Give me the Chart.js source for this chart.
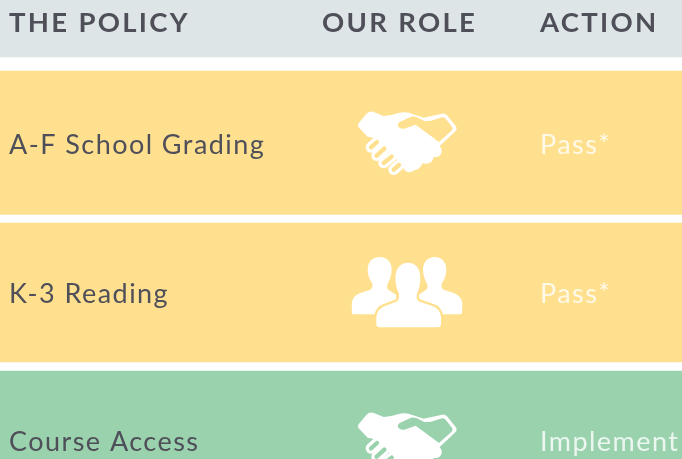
<!DOCTYPE html>
<html><head><meta charset="utf-8">
<style>html,body{margin:0;padding:0;background:#fff}#w{width:682px;height:459px;overflow:hidden}</style>
<script src="https://cdn.jsdelivr.net/npm/chart.js@4"></script></head>
<body><div id="w"><canvas id="c" width="682" height="459"></canvas></div>
<script>
const headers = ["THE POLICY", "OUR ROLE", "ACTION"];
const headerColumns = [9, 322, 540];
const bodyColumns = [9, 407, 540];
const policies = ["A-F School Grading", "K-3 Reading", "Course Access"];
const roles = ["handshake", "people", "handshake"];
const actions = ["Pass*", "Pass*", "Implement"];
const headerBand = [0, 57];
const rowBands = [[71, 214.5], [223, 362], [371, 512]];
const rowBaselines = [154, 303, 450.5];
const iconCentres = [142, 293, 443];
const rowColors = ["#ffe08f", "#ffe08f", "#9bd2ae"];
const headerColor = "#dee5e7";
const inkColor = "#4f4f59";

const handBody = new Path2D("M56,82 L78,56 Q88,46 100,50 L130,62 Q150,62 172,54 Q190,49 205,52 L250,67 L305,55 Q314,54 320,60 L346,92 Q352,100 345,108 L298,152 Q308,165 302,176 Q295,188 280,184 Q278,202 258,205 L246,204 Q240,222 222,225 Q208,236 195,226 L160,180 L100,128 L82,124 L55,96 Q50,90 56,82 Z");
const handGap = new Path2D("M178,80 L212,64 Q220,62 228,65 L252,77 Q262,78 272,76 L305,66 Q312,66 316,70 L336,96 Q338,102 334,106 L296,140 L226,88 L192,100 Q176,102 172,90 Q172,84 178,80 Z");
const handFingers = [[[92,156],[110,140]], [[109,181],[132,160]], [[130,203],[154,184]], [[160,223],[176,209]]];
const personLeft = new Path2D("M35,205 L34,176 Q36,152 60,144 L90,134 Q98,128 96,116 Q82,96 82,72 Q84,38 118,36 Q152,38 154,72 Q154,96 142,116 Q138,128 144,134 L168,150 L168,208 L41,208 Q35,208 35,205 Z");
const personRight = new Path2D("M365,205 L366,176 Q364,152 340,144 L310,134 Q302,128 304,116 Q318,96 318,72 Q316,38 284,36 Q250,38 248,72 Q248,96 260,116 Q264,128 258,134 L234,150 L234,208 L359,208 Q365,208 365,205 Z");
const personCentre = new Path2D("M108,238 L108,216 Q110,190 136,182 L168,170 Q178,164 176,146 Q165,126 165,96 Q168,55 203,53 Q238,55 240,96 Q240,126 230,146 Q226,164 238,170 L274,182 Q300,190 302,216 L302,238 Q302,247 292,247 L118,247 Q108,247 108,238 Z");

function drawIcon(ctx, name, cx, cy, bg) {
  ctx.save();
  ctx.translate(cx, cy);
  ctx.scale(1 / 3, 1 / 3);
  ctx.fillStyle = "#fff";
  ctx.strokeStyle = "#fff";
  ctx.lineCap = "round";
  ctx.lineJoin = "round";
  if (name === "handshake") {
    ctx.translate(-200, -140);
    ctx.fill(handBody);
    ctx.fillStyle = bg;
    ctx.fill(handGap);
    handFingers.forEach(f => {
      ctx.strokeStyle = "#fff";
      ctx.lineWidth = 32;
      ctx.beginPath(); ctx.moveTo(f[0][0], f[0][1]); ctx.lineTo(f[1][0], f[1][1]); ctx.stroke();
    });
    handFingers.forEach(f => {
      ctx.strokeStyle = bg;
      ctx.lineWidth = 13;
      ctx.beginPath(); ctx.moveTo(f[0][0], f[0][1]); ctx.lineTo(f[1][0], f[1][1]); ctx.stroke();
    });
  } else {
    ctx.translate(-200, -144);
    ctx.fill(personLeft);
    ctx.fill(personRight);
    ctx.strokeStyle = bg;
    ctx.lineWidth = 14;
    ctx.stroke(personCentre);
    ctx.fill(personCentre);
  }
  ctx.restore();
}

const tablePlugin = {
  id: "tableText",
  afterDatasetsDraw(chart) {
    const ctx = chart.ctx, col = chart.scales.col, y = chart.scales.y;
    ctx.save();
    ctx.textBaseline = "alphabetic";
    ctx.textAlign = "left";
    ctx.font = "700 27.5px Lato";
    ctx.letterSpacing = "2.3px";
    ctx.fillStyle = inkColor;
    headers.forEach((h, i) => ctx.fillText(h, col.getPixelForValue(headerColumns[i]), y.getPixelForValue(32)));
    ctx.font = "400 27px Lato";
    ctx.letterSpacing = "1.45px";
    policies.forEach((p, i) => {
      ctx.fillStyle = inkColor;
      ctx.fillText(p, col.getPixelForValue(bodyColumns[0]), y.getPixelForValue(rowBaselines[i]));
      ctx.fillStyle = "rgba(255,255,255,0.8)";
      ctx.fillText(actions[i], col.getPixelForValue(bodyColumns[2]), y.getPixelForValue(rowBaselines[i]));
      drawIcon(ctx, roles[i], col.getPixelForValue(bodyColumns[1]), y.getPixelForValue(iconCentres[i]), rowColors[i]);
    });
    ctx.restore();
  }
};

new Chart(document.getElementById("c"), {
  type: "bar",
  data: {
    labels: ["table"],
    datasets: [
      { label: "header", data: [headerBand], backgroundColor: headerColor },
      ...rowBands.map((b, i) => ({ label: policies[i], data: [b], backgroundColor: rowColors[i] }))
    ]
  },
  options: {
    responsive: false,
    animation: false,
    layout: { padding: 0 },
    datasets: { bar: { grouped: false, barPercentage: 1, categoryPercentage: 1, borderWidth: 0 } },
    plugins: { legend: { display: false }, tooltip: { enabled: false }, title: { display: false } },
    scales: {
      x: { display: false },
      col: { type: "linear", axis: "x", position: "bottom", display: false, offset: false, min: 0, max: 682 },
      y: { display: false, reverse: true, min: 0, max: 459 }
    }
  },
  plugins: [tablePlugin]
});
</script></body></html>
